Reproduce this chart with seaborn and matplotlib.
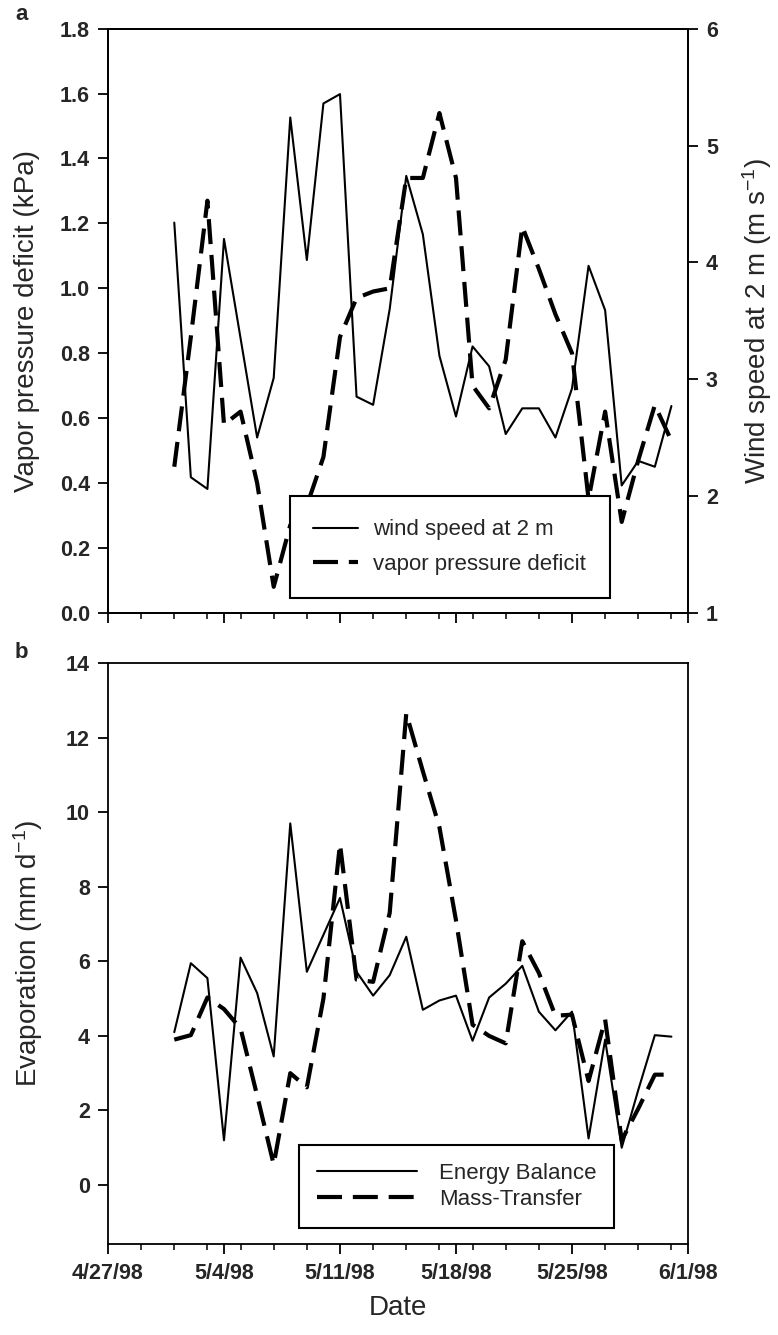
import numpy as np
import pandas as pd
import matplotlib
matplotlib.use("Agg")
import matplotlib.pyplot as plt
import matplotlib.dates as mdates
import seaborn as sns

# ---------------- data ----------------
dates = pd.date_range("1998-05-01", "1998-05-31", freq="D")

wind_speed = [4.34, 2.16, 2.06, 4.20, 3.35, 2.50, 3.01, 5.24, 4.02, 5.36, 5.44,
              2.85, 2.78, 3.60, 4.74, 4.24, 3.20, 2.68, 3.28, 3.11, 2.53, 2.75,
              2.75, 2.50, 2.92, 3.97, 3.59, 2.09, 2.30, 2.25, 2.77]

vpd = [0.45, 0.85, 1.27, 0.58, 0.62, 0.40, 0.08, 0.27, 0.33, 0.48, 0.85,
       0.97, 0.99, 1.00, 1.34, 1.34, 1.54, 1.34, 0.70, 0.63, 0.78, 1.19,
       1.06, 0.92, 0.80, 0.35, 0.62, 0.28, 0.47, 0.64, 0.53]

energy_balance = [4.10, 5.95, 5.55, 1.20, 6.10, 5.15, 3.45, 9.70, 5.72, 6.71, 7.70,
                  5.72, 5.08, 5.63, 6.66, 4.70, 4.95, 5.08, 3.87, 5.03, 5.40,
                  5.88, 4.65, 4.15, 4.65, 1.25, 3.90, 1.00, 2.55, 4.02, 3.98]

mass_transfer = [3.90, 4.02, 5.03, 4.72, 4.20, 2.40, 0.55, 3.00, 2.62, 5.00, 9.15,
                 5.51, 5.45, 7.30, 12.65, 11.10, 9.60, 7.10, 4.30, 4.00, 3.80,
                 6.54, 5.69, 4.54, 4.57, 2.79, 4.44, 1.20, 2.05, 2.96, 2.96]

x_start, x_end = "1998-04-27", "1998-06-01"
major_dates = pd.date_range(x_start, x_end, freq="7D")
minor_dates = pd.date_range(x_start, x_end, freq="2D")
major_labels = [f"{d.month}/{d.day}/{d:%y}" for d in major_dates]

vpd_ticks = np.arange(0, 1.81, 0.2)
wind_ticks = [1, 2, 3, 4, 5, 6]
evap_ticks = [0, 2, 4, 6, 8, 10, 12, 14]

# ---------------- style ----------------
sns.set_theme(style="ticks")
plt.rcParams["font.family"] = ["Liberation Sans", "DejaVu Sans"]
plt.rcParams["mathtext.fontset"] = "custom"
plt.rcParams["mathtext.rm"] = "Liberation Sans"
plt.rcParams["mathtext.it"] = "Liberation Sans"
plt.rcParams["axes.edgecolor"] = "black"
plt.rcParams["axes.linewidth"] = 1.3

TICK_FS = 15.5
LABEL_FS = 20
LEG_FS = 16

fig = plt.figure(figsize=(7.78, 13.35), dpi=100)
ax1 = fig.add_axes([0.1388, 0.5410, 0.7455, 0.4375])
ax2 = ax1.twinx()
ax3 = fig.add_axes([0.1388, 0.0685, 0.7455, 0.4348])

df_a = pd.DataFrame({"date": dates, "wind": wind_speed, "vpd": vpd})
df_b = pd.DataFrame({"date": dates, "eb": energy_balance, "mt": mass_transfer})

# panel a
sns.lineplot(data=df_a, x="date", y="vpd", ax=ax1, color="black", linewidth=3.0)
vpd_line = ax1.lines[-1]
vpd_line.set_dashes([6, 2.6])
sns.lineplot(data=df_a, x="date", y="wind", ax=ax2, color="black", linewidth=1.5)
wind_line = ax2.lines[-1]

# panel b
sns.lineplot(data=df_b, x="date", y="eb", ax=ax3, color="black", linewidth=1.5)
eb_line = ax3.lines[-1]
sns.lineplot(data=df_b, x="date", y="mt", ax=ax3, color="black", linewidth=3.0)
mt_line = ax3.lines[-1]
mt_line.set_dashes([6, 2.6])

major_num = mdates.date2num(major_dates)
minor_num = mdates.date2num(minor_dates)
xlim = (mdates.date2num(pd.Timestamp(x_start)), mdates.date2num(pd.Timestamp(x_end)))

for ax in (ax1, ax3):
    ax.set_xlim(*xlim)
    ax.set_xticks(major_num, labels=major_labels, fontweight="bold", fontsize=TICK_FS)
    ax.set_xticks(minor_num, minor=True)
    ax.tick_params(axis="x", which="major", direction="out", length=7, width=1.3,
                   color="black", pad=7)
    ax.tick_params(axis="x", which="minor", direction="out", length=4, width=1.1,
                   color="black")
    ax.tick_params(axis="y", which="major", direction="out", length=7, width=1.3,
                   color="black", pad=6)
    for s in ax.spines.values():
        s.set_visible(True)
        s.set_color("black")
        s.set_linewidth(1.3)

ax1.tick_params(axis="x", labelbottom=False)
ax1.set_xlabel("")

ax1.set_ylim(0, 1.8)
ax1.set_yticks(vpd_ticks, labels=[f"{v:.1f}" for v in vpd_ticks],
               fontweight="bold", fontsize=TICK_FS)
ax1.set_ylabel("Vapor pressure deficit (kPa)", fontsize=LABEL_FS, labelpad=14)

ax2.set_ylim(1, 6)
ax2.set_yticks(wind_ticks, labels=[str(v) for v in wind_ticks],
               fontweight="bold", fontsize=TICK_FS)
ax2.tick_params(axis="y", which="major", direction="out", length=7, width=1.3,
                color="black", pad=6)
ax2.set_ylabel("Wind speed at 2 m (m s$^{-1}$)", fontsize=LABEL_FS, labelpad=16)
for s in ax2.spines.values():
    s.set_color("black")
    s.set_linewidth(1.3)

ax3.set_ylim(-1.57, 14)
ax3.set_yticks(evap_ticks, labels=[str(v) for v in evap_ticks],
               fontweight="bold", fontsize=TICK_FS)
ax3.set_ylabel("Evaporation (mm d$^{-1}$)", fontsize=LABEL_FS, labelpad=15)
ax3.set_xlabel("Date", fontsize=LABEL_FS, labelpad=8)

# legends
leg1 = ax2.legend([wind_line, vpd_line], ["wind speed at 2 m", "vapor pressure deficit"],
                  loc="lower left", bbox_to_anchor=(0.314, 0.025), borderaxespad=0,
                  fontsize=LEG_FS, frameon=True, fancybox=False, edgecolor="black",
                  framealpha=1, handlelength=2.0, handletextpad=0.7, borderpad=1.05,
                  labelspacing=0.6)
leg1.get_frame().set_linewidth(1.5)

leg2 = ax3.legend([eb_line, mt_line], ["Energy Balance", "Mass-Transfer"],
                  loc="lower left", bbox_to_anchor=(0.329, 0.027), borderaxespad=0,
                  fontsize=LEG_FS, frameon=True, fancybox=False, edgecolor="black",
                  framealpha=1, handlelength=4.5, handletextpad=1.0, borderpad=0.8,
                  labelspacing=0.25)
leg2.get_frame().set_linewidth(1.5)

fig.text(15 / 778, 1 - 14 / 1335, "a", fontsize=16, fontweight="bold", va="center")
fig.text(15 / 778, 1 - 652 / 1335, "b", fontsize=16, fontweight="bold", va="center")

fig.savefig("out.png", dpi=100, facecolor="white")
